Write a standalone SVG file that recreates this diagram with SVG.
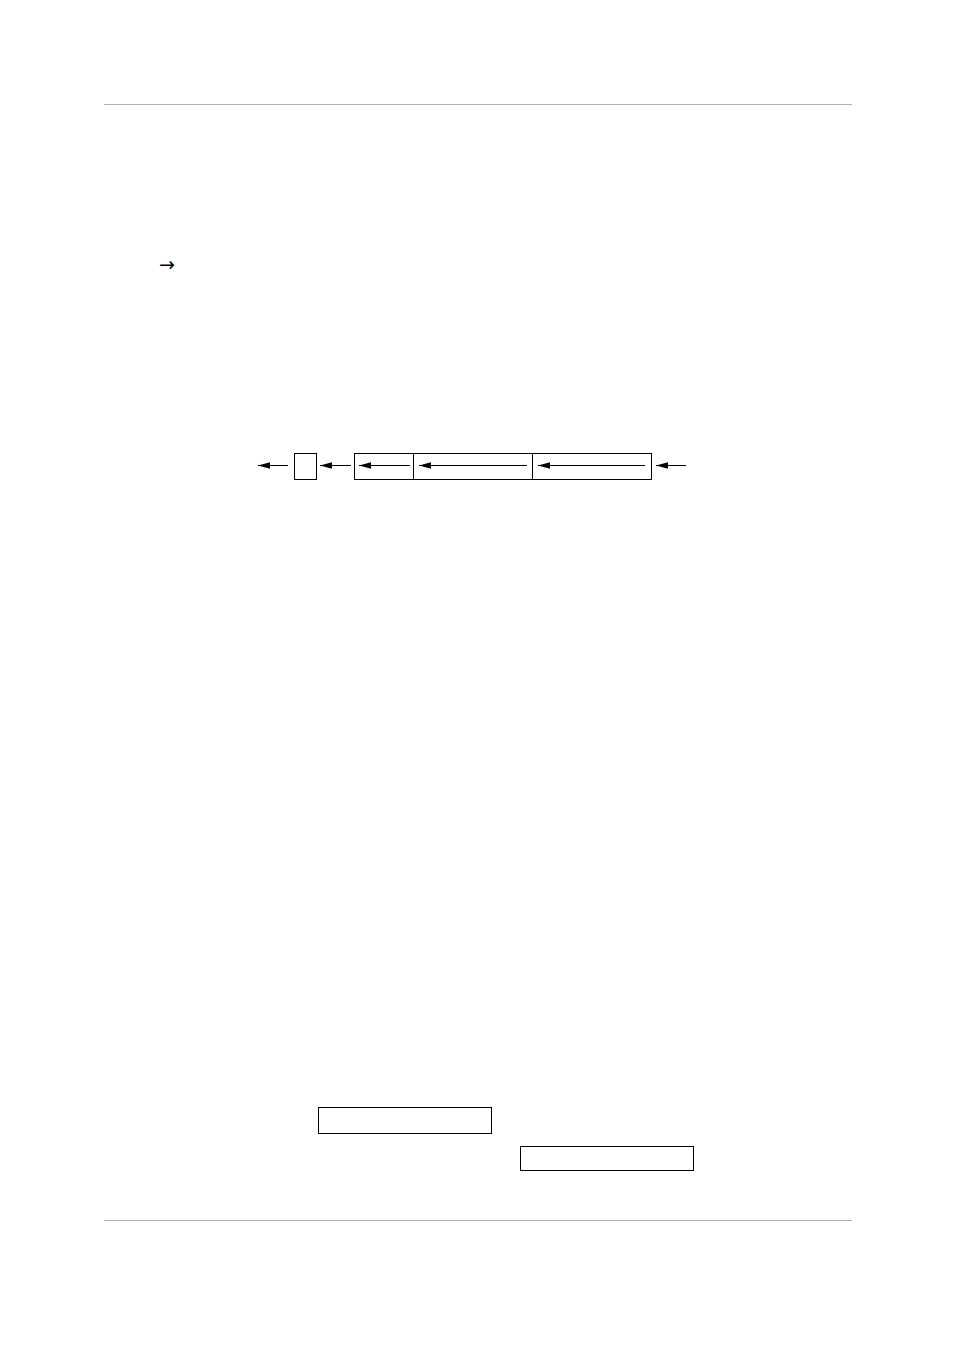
<svg xmlns="http://www.w3.org/2000/svg" width="954" height="1351" viewBox="0 0 954 1351">
<style>
.rule{stroke:#b0b0b0;stroke-width:1.2;fill:none}
.box{fill:#fff;stroke:#000;stroke-width:1}
.conn line{stroke:#000;stroke-width:1}
.sym{font-family:"DejaVu Sans","Liberation Sans",sans-serif;font-size:19px;fill:#000}
</style>
<defs>
<marker id="ah" markerWidth="12" markerHeight="8" refX="12" refY="4" orient="auto" markerUnits="userSpaceOnUse">
<path d="M0,0.8 L12,4 L0,7.2 Z" fill="#000"/>
</marker>
</defs>
<rect width="954" height="1351" fill="#fff"/>
<line class="rule" x1="104" y1="104.5" x2="852" y2="104.5"/>
<line class="rule" x1="104" y1="1220.5" x2="852" y2="1220.5"/>
<text class="sym" x="159" y="271">→</text>
<g id="node-small"><rect class="box" x="294.5" y="453.5" width="22" height="26"/></g>
<g id="node-seg1"><rect class="box" x="354.5" y="453.5" width="59" height="26"/></g>
<g id="node-seg2"><rect class="box" x="413.5" y="453.5" width="119" height="26"/></g>
<g id="node-seg3"><rect class="box" x="532.5" y="453.5" width="119" height="26"/></g>
<g id="node-box1"><rect class="box" x="318.5" y="1107.5" width="173" height="26"/></g>
<g id="node-box2"><rect class="box" x="520.5" y="1146.5" width="173" height="24"/></g>
<g id="connectors" class="conn">
<line x1="288" y1="465.5" x2="258" y2="465.5" marker-end="url(#ah)"/>
<line x1="351" y1="465.5" x2="320" y2="465.5" marker-end="url(#ah)"/>
<line x1="410" y1="465.5" x2="359" y2="465.5" marker-end="url(#ah)"/>
<line x1="527" y1="465.5" x2="419" y2="465.5" marker-end="url(#ah)"/>
<line x1="645" y1="465.5" x2="538" y2="465.5" marker-end="url(#ah)"/>
<line x1="686" y1="465.5" x2="656" y2="465.5" marker-end="url(#ah)"/>
</g>
</svg>
